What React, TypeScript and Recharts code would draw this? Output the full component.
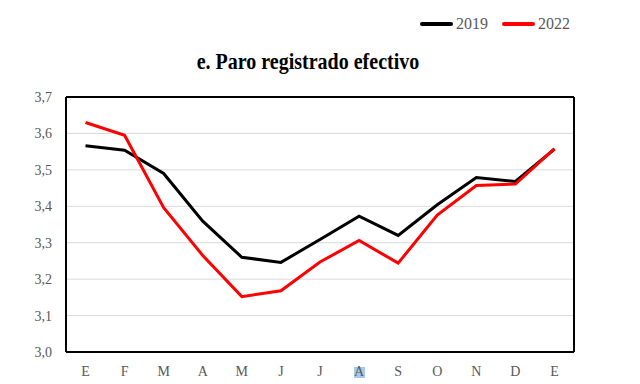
import React from 'react';
import { LineChart, Line, XAxis, YAxis, CartesianGrid } from 'recharts';

const months = ['E', 'F', 'M', 'A', 'M', 'J', 'J', 'A', 'S', 'O', 'N', 'D', 'E'];
const values2019 = [3.566, 3.554, 3.49, 3.359, 3.26, 3.246, 3.309, 3.373, 3.32, 3.404, 3.479, 3.468, 3.557];
const values2022 = [3.63, 3.595, 3.396, 3.265, 3.152, 3.168, 3.247, 3.306, 3.244, 3.376, 3.457, 3.461, 3.558];
const yTicks = [3.0, 3.1, 3.2, 3.3, 3.4, 3.5, 3.6, 3.7];

const data = months.map((m, i) => ({ i, month: m, y2019: values2019[i], y2022: values2022[i] }));

const GREY = '#595959';
const SERIF = 'Liberation Serif, Times New Roman, serif';

// the selected "A" (agosto) in the source has a blue highlight behind it
const MonthTick = (props: any) => {
  const { x, y, payload } = props;
  const label = months[payload.value];
  return (
    <g>
      {payload.value === 7 && <rect x={x - 5} y={y + 4} width={11} height={11} fill="#a9c9ea" />}
      <text x={x} y={y} dy={13} textAnchor="middle" fill={GREY} style={{ fontSize: 14, fontFamily: SERIF }}>
        {label}
      </text>
    </g>
  );
};

const LegendItem = ({ color, label }: { color: string; label: string }) => (
  <div style={{ display: 'flex', alignItems: 'center', marginLeft: 14 }}>
    <div style={{ width: 33, height: 4, background: color, borderRadius: 2, marginRight: 3 }} />
    <span style={{ color: GREY, fontSize: 16, fontFamily: SERIF }}>{label}</span>
  </div>
);

export default function App() {
  return (
    <div style={{ position: 'absolute', left: 0, top: 0, width: 640, height: 384, background: '#fff' }}>
      <div style={{ position: 'absolute', top: 15, left: 406, display: 'flex' }}>
        <LegendItem color="#000000" label="2019" />
        <LegendItem color="#ff0000" label="2022" />
      </div>
      <div
        style={{
          position: 'absolute',
          top: 50,
          left: -12,
          width: 640,
          textAlign: 'center',
          fontFamily: SERIF,
          fontWeight: 'bold',
          fontSize: 20,
          lineHeight: '24px',
          color: '#000',
          transform: 'scale(1, 1.2)',
          transformOrigin: '50% 19px',
        }}
      >
        e. Paro registrado efectivo
      </div>
      <LineChart width={640} height={384} data={data} margin={{ top: 96, right: 65, left: 0, bottom: 0 }}>
        <CartesianGrid vertical={false} stroke="#d9d9d9" strokeWidth={1} />
        <XAxis
          dataKey="i"
          type="category"
          height={32}
          padding={{ left: 19.5, right: 19.5 }}
          tickLine={false}
          tickSize={0}
          tickMargin={11}
          axisLine={{ stroke: '#000', strokeWidth: 2 }}
          tick={<MonthTick />}
          interval={0}
        />
        <XAxis
          xAxisId="top"
          dataKey="i"
          orientation="top"
          height={1}
          tick={false}
          tickLine={false}
          axisLine={{ stroke: '#000', strokeWidth: 2 }}
        />
        <YAxis
          domain={[3.0, 3.7]}
          ticks={yTicks}
          width={66}
          tickLine={false}
          tickSize={0}
          tickMargin={14}
          axisLine={{ stroke: '#000', strokeWidth: 2 }}
          tick={{ fill: GREY, fontSize: 14, style: { fontFamily: SERIF } }}
          tickFormatter={(v: number) => v.toFixed(1).replace('.', ',')}
        />
        <YAxis
          yAxisId="right"
          orientation="right"
          width={1}
          domain={[3.0, 3.7]}
          tick={false}
          tickLine={false}
          axisLine={{ stroke: '#000', strokeWidth: 2 }}
        />
        <Line type="linear" dataKey="y2019" stroke="#000000" strokeWidth={3} dot={false} isAnimationActive={false} />
        <Line type="linear" dataKey="y2022" stroke="#ff0000" strokeWidth={3} dot={false} isAnimationActive={false} />
      </LineChart>
    </div>
  );
}
